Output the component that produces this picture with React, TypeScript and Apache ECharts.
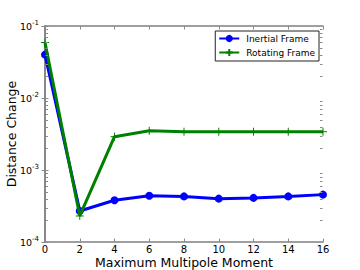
import React, { useEffect, useRef } from "react";
import * as echarts from "echarts";

const xValues = [0, 2, 4, 6, 8, 10, 12, 14, 16];
const inertial = [0.04, 2.7e-4, 3.8e-4, 4.4e-4, 4.3e-4, 4.0e-4, 4.1e-4, 4.3e-4, 4.55e-4];
const rotating = [0.059, 2.3e-4, 2.9e-3, 3.5e-3, 3.4e-3, 3.4e-3, 3.4e-3, 3.4e-3, 3.4e-3];
const seriesNames = ["Inertial Frame", "Rotating Frame"];
const xTitle = "Maximum Multipole Moment";
const yTitle = "Distance Change";
const decades = [-4, -3, -2];
const minorMultipliers = [2, 3, 4, 5, 6, 7, 8, 9];

const FONT = "DejaVu Sans";
const FRAME = "#808080";
const TICK = "#8a8a8a";

export default function App() {
  const ref = useRef<HTMLDivElement>(null);
  useEffect(() => {
    if (!ref.current) return;
    const chart = echarts.init(ref.current, undefined, { renderer: "svg" });
    const yLabel = (v: number) => {
      const e = Math.round(Math.log10(v));
      return `{b|10}{s|${e}}`;
    };
    chart.setOption({
      animation: false,
      textStyle: { fontFamily: FONT },
      grid: { left: 45, right: 37, top: 26, bottom: 28, containLabel: false, outerBoundsMode: "none" },
      legend: {
        orient: "vertical",
        right: 41,
        top: 31,
        padding: [2, 4, 3, 3],
        itemGap: 3,
        itemWidth: 20,
        itemHeight: 9,
        borderColor: "#222",
        borderWidth: 1,
        backgroundColor: "#fff",
        textStyle: { fontFamily: FONT, fontSize: 9, lineHeight: 11, color: "#000", padding: [0, 0, 0, 2] },
        data: seriesNames,
      },
      xAxis: [
        {
          type: "value",
          min: 0,
          max: 16,
          interval: 2,
          name: xTitle,
          nameLocation: "middle",
          nameGap: 14,
          nameMoveOverlap: false,
          nameTextStyle: { fontFamily: FONT, fontSize: 12.5, color: "#000" },
          axisLine: { onZero: false, lineStyle: { color: FRAME, width: 1.5 } },
          axisTick: { inside: true, length: 3.5, lineStyle: { color: TICK } },
          axisLabel: { fontFamily: FONT, fontSize: 10, color: "#000", margin: 2 },
          splitLine: { show: false },
        },
        {
          type: "value",
          position: "top",
          min: 0,
          max: 16,
          interval: 2,
          axisLine: { onZero: false, lineStyle: { color: FRAME, width: 1.5 } },
          axisTick: { inside: true, length: 3.5, lineStyle: { color: TICK } },
          axisLabel: { show: false },
          splitLine: { show: false },
        },
      ],
      yAxis: [
        {
          type: "log",
          logBase: 10,
          min: 1e-4,
          max: 1e-1,
          name: yTitle,
          nameLocation: "middle",
          nameGap: 27,
          nameMoveOverlap: false,
          nameTextStyle: { fontFamily: FONT, fontSize: 12.5, color: "#000" },
          axisLine: { lineStyle: { color: FRAME, width: 1.5 } },
          axisTick: { inside: true, length: 3.5, lineStyle: { color: TICK } },
          axisLabel: {
            formatter: yLabel,
            margin: 6,
            rich: {
              b: { fontFamily: FONT, fontSize: 9.5, color: "#000" },
              s: { fontFamily: FONT, fontSize: 7, color: "#000", padding: [0, 0, 7, 0] },
            },
          },
          splitLine: { show: false },
        },
        {
          type: "log",
          logBase: 10,
          min: 1e-4,
          max: 1e-1,
          position: "right",
          axisLine: { lineStyle: { color: FRAME, width: 1.5 } },
          axisTick: { inside: true, length: 3.5, lineStyle: { color: TICK } },
          axisLabel: { show: false },
          splitLine: { show: false },
        },
      ],
      series: [
        {
          name: seriesNames[0],
          type: "line",
          data: xValues.map((x, i) => [x, inertial[i]]),
          lineStyle: { color: "#0000ff", width: 3 },
          itemStyle: { color: "#0000ff", borderColor: "#0000ff", borderWidth: 0 },
          symbol: "circle",
          symbolSize: 8,
          z: 2,
        },
        {
          name: seriesNames[1],
          type: "line",
          data: xValues.map((x, i) => [x, rotating[i]]),
          lineStyle: { color: "#008000", width: 3 },
          itemStyle: { color: "#008000", borderColor: "#008000", borderWidth: 1 },
          symbol: "path://M5,0L5,10M0,5L10,5",
          symbolSize: 8,
          z: 3,
        },
      ],
    });

    const elements: any[] = [];
    const xl = chart.convertToPixel({ xAxisIndex: 0 }, 0) as number;
    const xr = chart.convertToPixel({ xAxisIndex: 0 }, 16) as number;
    decades.forEach((d) => {
      minorMultipliers.forEach((m) => {
        const v = m * Math.pow(10, d);
        const y = Math.round(chart.convertToPixel({ yAxisIndex: 0 }, v) as number) + 0.5;
        elements.push({
          type: "line",
          shape: { x1: xl + 0.5, y1: y, x2: xl + 3, y2: y },
          style: { stroke: TICK, lineWidth: 1 },
          silent: true,
          z: 10,
        });
        elements.push({
          type: "line",
          shape: { x1: xr - 3, y1: y, x2: xr - 0.5, y2: y },
          style: { stroke: TICK, lineWidth: 1 },
          silent: true,
          z: 10,
        });
      });
    });
    chart.setOption({ graphic: elements });

    return () => chart.dispose();
  }, []);
  return <div ref={ref} style={{ width: 360, height: 270, position: "absolute", left: 0, top: 0 }} />;
}
